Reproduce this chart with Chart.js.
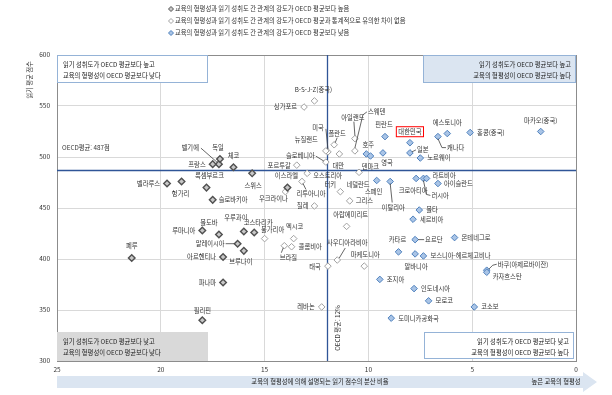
<!DOCTYPE html>
<html lang="ko">
<head>
<meta charset="utf-8">
<script src="https://cdn.jsdelivr.net/npm/chart.js@4.4.1/dist/chart.umd.min.js"></script>
<style>
  html, body { margin: 0; padding: 0; background: #fff; }
  #wrap { width: 612px; height: 395px; }
</style>
</head>
<body>
<div id="wrap"><canvas id="ScatterChart" width="612" height="395"></canvas></div>
<script>
// 관계의 강도가 OECD 평균보다 높음
const strongNames = ['벨기에', '독일', '프랑스', '체코', '룩셈부르크', '벨라루스', '헝가리', '슬로바키아', '스위스', '이스라엘',
  '루마니아', '몰도바', '말레이시아', '아르헨티나', '페루', '파나마', '필리핀', '우루과이', '코스타리카', '브루나이'];
const strongShare = [17.2, 17.15, 17.5, 16.5, 17.8, 19.7, 19.0, 17.5, 15.6, 13.9,
  18.0, 17.2, 16.3, 17.0, 21.4, 17.0, 18.0, 16.0, 15.5, 16.0];
const strongScore = [493, 498, 493, 490, 470, 474, 476, 458, 484, 470,
  428, 424, 415, 402, 401, 377, 340, 427, 426, 408];

// 통계적으로 유의한 차이 없음
const neutralNames = ['B-S-J-Z(중국)', '싱가포르', '미국', '뉴질랜드', '슬로베니아', '폴란드', '대만', '아일랜드', '스웨덴', '포르투갈',
  '오스트리아', '리투아니아', '우크라이나', '네덜란드', '터키', '그리스', '칠레', '아랍에미리트', '멕시코', '콜롬비아',
  '브라질', '불가리아', '사우디아라비아', '태국', '마케도니아', '레바논'];
const neutralShare = [12.6, 13.1, 11.95, 12.05, 12.05, 11.65, 11.4, 10.65, 10.65, 13.45,
  12.95, 13.2, 14.0, 10.45, 11.35, 10.9, 12.6, 11.05, 13.6, 13.7,
  14.05, 15.0, 11.5, 11.95, 10.2, 12.25];
const neutralScore = [555, 549, 505, 506, 495, 512, 503, 518, 506, 492,
  484, 476, 466, 485, 466, 457, 452, 432, 420, 412,
  413, 420, 399, 393, 393, 353];

// 관계의 강도가 OECD 평균보다 낮음
const weakNames = ['핀란드', '호주', '덴마크', '영국', '대한민국', '일본', '노르웨이', '에스토니아', '캐나다', '홍콩(중국)',
  '마카오(중국)', '스페인', '이탈리아', '크로아티아', '러시아', '라트비아', '아이슬란드', '몰타', '세르비아', '요르단',
  '카타르', '알바니아', '보스니아-헤르체고비나', '몬테네그로', '바쿠(아제르바이잔)', '카자흐스탄', '조지아', '인도네시아', '모로코', '코소보',
  '도미니카공화국'];
const weakShare = [9.2, 10.1, 9.9, 9.3, 8.0, 8.0, 7.5, 6.2, 6.65, 5.1,
  1.7, 9.6, 8.95, 7.7, 7.35, 7.2, 6.65, 7.55, 7.85, 7.75,
  8.55, 7.75, 7.35, 5.85, 4.3, 4.3, 9.45, 7.8, 7.1, 4.9,
  8.9];
const weakScore = [520, 503, 501, 504, 514, 504, 499, 523, 520, 524,
  525, 477, 476, 479, 479, 479, 474, 448, 439, 419,
  407, 405, 403, 421, 389, 387, 380, 371, 359, 353,
  342];

const seriesNames = [
  '교육의 형평성과 읽기 성취도 간 관계의 강도가 OECD 평균보다 높음',
  '교육의 형평성과 읽기 성취도 간 관계의 강도가 OECD 평균과 통계적으로 유의한 차이 없음',
  '교육의 형평성과 읽기 성취도 간 관계의 강도가 OECD 평균보다 낮음'
];
const xTicks = [25, 20, 15, 10, 5, 0];
const yTicks = [300, 350, 400, 450, 500, 550, 600];
const oecdScore = 487;
const oecdShare = 12;
const highlight = '대한민국';

// label placement: [dx, dy, align, leader points]
const labelPos = {
  '벨기에': [-20, -17, 'r', [[-2, -2], [-18, -16]]],
  '독일': [-2, -11, 'c'],
  '프랑스': [-7, 0, 'r'],
  '체코': [0, -12, 'c'],
  '룩셈부르크': [3, -12, 'c'],
  '벨라루스': [-7, 0, 'r'],
  '헝가리': [-1, 12, 'c'],
  '슬로바키아': [6, 0, 'l'],
  '스위스': [1, 12, 'c'],
  '이스라엘': [-1, -12, 'c'],
  '리투아니아': [9, 12, 'c', [[1, 2], [4, 8]]],
  '루마니아': [-7, 0, 'r'],
  '몰도바': [-10, -12, 'c'],
  '말레이시아': [-13, 0, 'r', [[-3, 0], [-12, 0]]],
  '아르헨티나': [-7, 0, 'r'],
  '페루': [0, -12, 'c'],
  '파나마': [-7, 0, 'r'],
  '필리핀': [0, -10, 'c'],
  '우루과이': [-8, -14, 'c'],
  '코스타리카': [4, -10, 'c'],
  '브루나이': [-3, 11, 'c'],
  'B-S-J-Z(중국)': [-1, -11, 'c'],
  '싱가포르': [-7, 0, 'r'],
  '미국': [-4, -24, 'r', [[0, -3], [-2, -23]]],
  '뉴질랜드': [-8, -11, 'r'],
  '슬로베니아': [-11, -6, 'r', [[-2, -1], [-10, -6]]],
  '폴란드': [3, -11, 'c', [[1, -2], [3, -7]]],
  '대만': [-1, 12, 'c'],
  '아일랜드': [-2, -21, 'c', [[0, -3], [-1, -17]]],
  '스웨덴': [13, -39, 'l', [[0, -3], [8, -36], [12, -39]]],
  '포르투갈': [-6, 0, 'r'],
  '오스트리아': [6, 2, 'l'],
  '우크라이나': [-12, 7, 'c'],
  '네덜란드': [-1, 12, 'c'],
  '터키': [-10, -7, 'c'],
  '그리스': [6, 0, 'l'],
  '칠레': [-6, 0, 'r'],
  '아랍에미리트': [4, -12, 'c'],
  '멕시코': [1, -12, 'c'],
  '콜롬비아': [7, 0, 'l'],
  '브라질': [4, 12, 'c', [[-1, 2], [-3, 7]]],
  '불가리아': [8, -9, 'c'],
  '사우디아라비아': [10, -17, 'c', [[2, -2], [8, -12]]],
  '태국': [-7, 0, 'r'],
  '마케도니아': [1, -12, 'c'],
  '레바논': [-7, 0, 'r'],
  '핀란드': [-1, -12, 'c'],
  '호주': [2, -9, 'c'],
  '덴마크': [0, 11, 'c'],
  '영국': [4, 10, 'c'],
  '대한민국': [0, -11, 'c'],
  '일본': [7, -3, 'l', [[2, -1], [6, -3]]],
  '노르웨이': [7, 0, 'l'],
  '에스토니아': [0, -11, 'c'],
  '캐나다': [9, 11, 'l', [[0, 2], [4, 11], [8, 11]]],
  '홍콩(중국)': [7, 0, 'l'],
  '마카오(중국)': [0, -11, 'c'],
  '스페인': [-3, 11, 'c'],
  '이탈리아': [3, 26, 'c', [[0, 2], [2, 21]]],
  '크로아티아': [-3, 12, 'c'],
  '러시아': [8, 17, 'l', [[0, 2], [3, 16], [7, 17]]],
  '라트비아': [6, -3, 'l'],
  '아이슬란드': [6, 0, 'l'],
  '요르단': [10, 0, 'l', [[3, 0], [9, 0]]],
  '카타르': [-1, -12, 'c'],
  '알바니아': [1, 13, 'c'],
  '바쿠(아제르바이잔)': [11, -6, 'l', [[2, -1], [6, -5], [10, -6]]],
  '카자흐스탄': [6, 4, 'l']
};

const FONT = '"Noto Sans CJK KR", "Noto Sans", sans-serif';
const styles = [
  { bg: '#c8c8c8', border: '#505050', width: 1.4 },
  { bg: '#ffffff', border: '#a0a0a0', width: 1 },
  { bg: '#a9c4e6', border: '#4f81bd', width: 1 }
];

function toPoints(names, xs, ys) {
  return names.map((n, i) => ({ x: xs[i], y: ys[i], name: n }));
}

const quadrantBoxes = {
  id: 'quadrantBoxes',
  beforeDatasetsDraw(chart) {
    const { ctx, chartArea: a, scales: { x, y } } = chart;
    ctx.save();
    // OECD average lines
    ctx.strokeStyle = '#2f5597';
    ctx.lineWidth = 1.3;
    const yo = Math.round(y.getPixelForValue(oecdScore)) + 0.5;
    const xo = Math.round(x.getPixelForValue(oecdShare)) + 0.5;
    ctx.beginPath();
    ctx.moveTo(a.left, yo); ctx.lineTo(a.right, yo);
    ctx.moveTo(xo, a.top); ctx.lineTo(xo, a.bottom);
    ctx.stroke();

    ctx.font = '6.3px ' + FONT;
    ctx.fillStyle = '#333';
    ctx.textBaseline = 'middle';
    ctx.textAlign = 'left';
    ctx.fillText('OECD평균: ' + oecdScore + '점', a.left + 5, yo - 23);
    ctx.save();
    ctx.translate(xo + 10, a.bottom - 33);
    ctx.rotate(-Math.PI / 2);
    ctx.textAlign = 'center';
    ctx.fillText('OECD 평균: ' + oecdShare + '%', 0, 0);
    ctx.restore();

    const boxes = [
      { x: a.left, y: a.top, w: 151, h: 28, fill: '#ffffff', stroke: '#95b3d7', align: 'left',
        lines: ['읽기 성취도가 OECD 평균보다 높고', '교육의 형평성이 OECD 평균보다 낮다'] },
      { x: a.right - 153, y: a.top, w: 153, h: 28, fill: '#dbe5f1', stroke: '#95b3d7', align: 'right',
        lines: ['읽기 성취도가 OECD 평균보다 높고', '교육의 형평성이 OECD 평균보다 높다'] },
      { x: a.left, y: a.bottom - 29, w: 151, h: 29, fill: '#d9d9d9', stroke: null, align: 'left',
        lines: ['읽기 성취도가 OECD 평균보다 낮고', '교육의 형평성이 OECD 평균보다 낮다'] },
      { x: a.right - 152, y: a.bottom - 29, w: 150, h: 27, fill: '#ffffff', stroke: '#95b3d7', align: 'right',
        lines: ['읽기 성취도가 OECD 평균보다 낮고', '교육의 형평성이 OECD 평균보다 높다'] }
    ];
    boxes.forEach(b => {
      ctx.fillStyle = b.fill;
      ctx.fillRect(b.x, b.y, b.w, b.h);
      if (b.stroke) {
        ctx.strokeStyle = b.stroke;
        ctx.lineWidth = 1;
        ctx.strokeRect(b.x + 0.5, b.y + 0.5, b.w - 1, b.h - 1);
      }
      ctx.fillStyle = '#222';
      ctx.textAlign = b.align;
      const tx = b.align === 'left' ? b.x + 6 : b.x + b.w - 5;
      ctx.fillText(b.lines[0], tx, b.y + 9.5);
      ctx.fillText(b.lines[1], tx, b.y + 21);
    });
    ctx.restore();
  }
};

const pointLabels = {
  id: 'pointLabels',
  afterDatasetsDraw(chart) {
    const ctx = chart.ctx;
    ctx.save();
    ctx.font = '6.3px ' + FONT;
    ctx.textBaseline = 'middle';
    chart.data.datasets.forEach((ds, i) => {
      chart.getDatasetMeta(i).data.forEach((pt, j) => {
        const name = ds.data[j].name;
        const [dx, dy, al, lead] = labelPos[name] || [7, 0, 'l'];
        if (lead) {
          ctx.beginPath();
          ctx.moveTo(pt.x + lead[0][0], pt.y + lead[0][1]);
          lead.slice(1).forEach(q => ctx.lineTo(pt.x + q[0], pt.y + q[1]));
          ctx.strokeStyle = '#404040';
          ctx.lineWidth = 0.8;
          ctx.stroke();
        }
        ctx.textAlign = al === 'l' ? 'left' : (al === 'r' ? 'right' : 'center');
        const tx = pt.x + dx, ty = pt.y + dy;
        if (name === highlight) {
          const w = ctx.measureText(name).width;
          ctx.fillStyle = '#fff';
          ctx.fillRect(tx - w / 2 - 2, ty - 5, w + 4, 10);
          ctx.strokeStyle = '#ff0000';
          ctx.lineWidth = 1;
          ctx.strokeRect(tx - w / 2 - 2, ty - 5, w + 4, 10);
        }
        ctx.fillStyle = '#333';
        ctx.fillText(name, tx, ty);
      });
    });
    ctx.restore();
  }
};

const frameAndTitles = {
  id: 'frameAndTitles',
  afterDraw(chart) {
    const { ctx, chartArea: a } = chart;
    ctx.save();
    // legend
    ctx.font = '6.3px ' + FONT;
    ctx.textBaseline = 'middle';
    ctx.textAlign = 'left';
    seriesNames.forEach((s, i) => {
      const ly = 9 + i * 12, lx = 171;
      ctx.beginPath();
      ctx.moveTo(lx, ly - 2.5); ctx.lineTo(lx + 2.5, ly); ctx.lineTo(lx, ly + 2.5); ctx.lineTo(lx - 2.5, ly);
      ctx.closePath();
      ctx.fillStyle = styles[i].bg;
      ctx.fill();
      ctx.strokeStyle = styles[i].border;
      ctx.lineWidth = 1;
      ctx.stroke();
      ctx.fillStyle = '#333';
      ctx.fillText(s, lx + 4, ly);
    });

    // y title
    ctx.save();
    ctx.translate(30, 80);
    ctx.rotate(-Math.PI / 2);
    ctx.textAlign = 'center';
    ctx.fillText('읽기 평균 점수', 0, 0);
    ctx.restore();

    // x title arrow
    const top = 376, bot = 388, mid = 382;
    ctx.beginPath();
    ctx.moveTo(a.left, top);
    ctx.lineTo(583, top);
    ctx.lineTo(583, 372);
    ctx.lineTo(597, mid);
    ctx.lineTo(583, 392);
    ctx.lineTo(583, bot);
    ctx.lineTo(a.left, bot);
    ctx.closePath();
    ctx.fillStyle = '#dbe5f1';
    ctx.fill();
    ctx.fillStyle = '#222';
    ctx.textAlign = 'center';
    ctx.fillText('교육의 형평성에 의해 설명되는 읽기 점수의 분산 비율', 320, mid);
    ctx.fillText('높은 교육의 형평성', 556, mid);
    ctx.restore();
  }
};

const ctx = document.getElementById('ScatterChart').getContext('2d');
new Chart(ctx, {
  type: 'scatter',
  data: {
    datasets: [
      { label: seriesNames[0], data: toPoints(strongNames, strongShare, strongScore) },
      { label: seriesNames[1], data: toPoints(neutralNames, neutralShare, neutralScore) },
      { label: seriesNames[2], data: toPoints(weakNames, weakShare, weakScore) }
    ].map((d, i) => Object.assign(d, {
      pointStyle: 'rectRot',
      pointRadius: 3.3,
      backgroundColor: styles[i].bg,
      borderColor: styles[i].border,
      borderWidth: styles[i].width
    }))
  },
  options: {
    responsive: false,
    animation: false,
    layout: { padding: { top: 55, right: 36, left: 0, bottom: 0 } },
    plugins: { legend: { display: false }, tooltip: { enabled: false } },
    scales: {
      x: {
        type: 'linear',
        reverse: true,
        min: 0,
        max: 25,
        afterBuildTicks: axis => { axis.ticks = xTicks.map(v => ({ value: v })); },
        afterFit: axis => { axis.height = 34; },
        grid: { color: c => (c.tick && c.tick.value === 0 ? '#8c8c8c' : '#d9d9d9'), drawTicks: false },
        border: { color: '#8c8c8c' },
        ticks: { padding: 5, maxRotation: 0, color: '#333', font: { size: 6.5, family: FONT } }
      },
      y: {
        min: 300,
        max: 600,
        afterBuildTicks: axis => { axis.ticks = yTicks.map(v => ({ value: v })); },
        afterFit: axis => { axis.width = 57; },
        grid: { color: c => (c.tick && c.tick.value === 600 ? '#8c8c8c' : '#d9d9d9'), drawTicks: false },
        border: { color: '#8c8c8c' },
        ticks: { padding: 7, color: '#333', font: { size: 6.5, family: FONT } }
      }
    }
  },
  plugins: [quadrantBoxes, pointLabels, frameAndTitles]
});
</script>
</body>
</html>
